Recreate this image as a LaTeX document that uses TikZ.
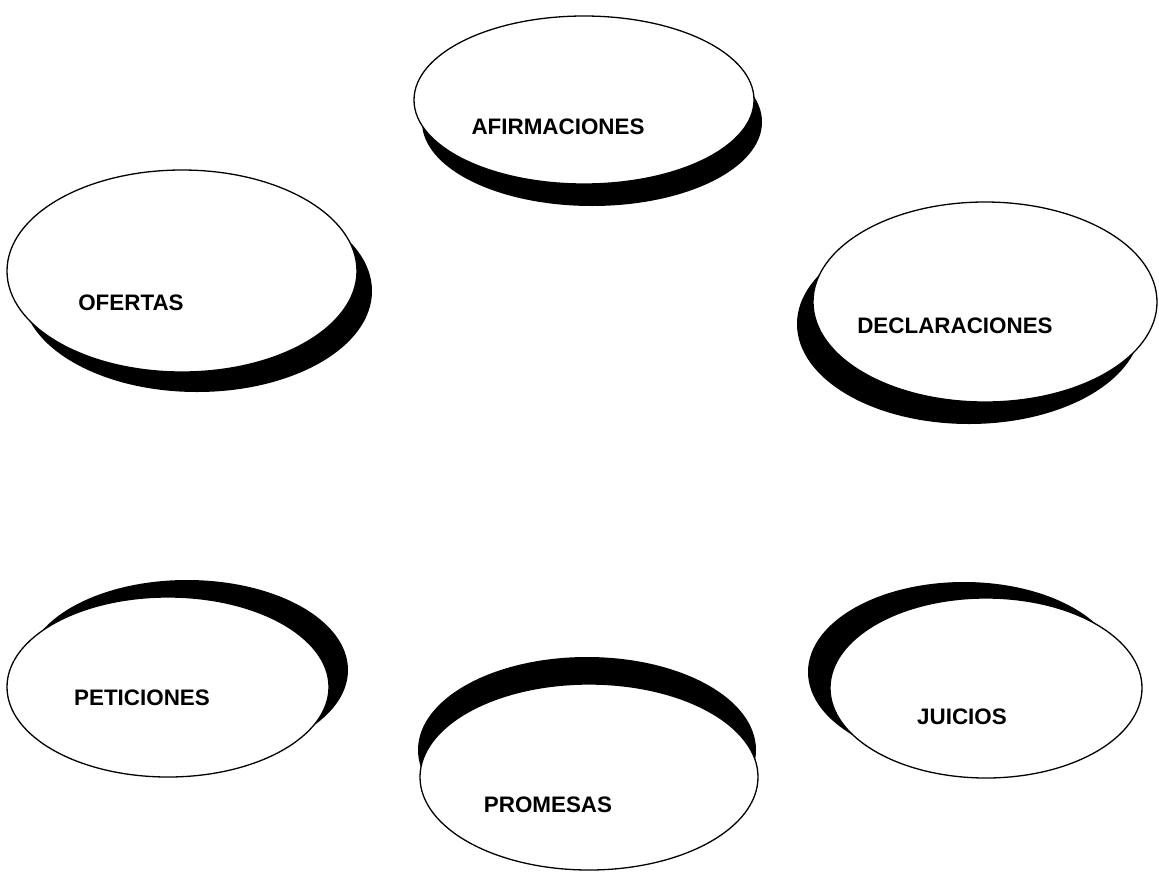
\documentclass[tikz,border=0pt]{standalone}
\usepackage{fontspec}
\setmainfont{Liberation Sans}
\usetikzlibrary{shapes.geometric,shadows}
\begin{document}
\begin{tikzpicture}[x=1pt,y=-1pt,
  bubble/.style={ellipse, draw=black, line width=1.3pt, fill=white, inner sep=0pt},
  dropshadow/.style 2 args={general shadow={fill=black, shadow xshift=#1, shadow yshift=#2}},
  bubbletext/.style={font=\fontsize{22.4}{26}\selectfont\bfseries, inner sep=0pt},
  ]
\useasboundingbox (0,0) rectangle (1159,873);

% six speech-act ellipses, each with a black drop shadow
\node[bubble, minimum width=340pt, minimum height=168pt, dropshadow={8pt}{-22pt}]  (afirm)  at (584,100) {};
\node[bubble, minimum width=350pt, minimum height=202pt, dropshadow={15pt}{-20pt}] (ofert)  at (182,271) {};
\node[bubble, minimum width=344pt, minimum height=200pt, dropshadow={-16pt}{-22pt}] (decla) at (985,302) {};
\node[bubble, minimum width=322pt, minimum height=180pt, dropshadow={19pt}{17pt}]  (petic)  at (168,687) {};
\node[bubble, minimum width=338pt, minimum height=186pt, dropshadow={-2pt}{27pt}]  (prome)  at (589,777) {};
\node[bubble, minimum width=312pt, minimum height=180pt, dropshadow={-22pt}{16pt}] (juici)  at (986,688) {};

% labels
\node[bubbletext] (tafirm) at (558,127) {AFIRMACIONES};
\node[bubbletext] (tofert) at (131,303) {OFERTAS};
\node[bubbletext] (tdecla) at (955,326) {DECLARACIONES};
\node[bubbletext] (tpetic) at (142,698) {PETICIONES};
\node[bubbletext] (tprome) at (548,805) {PROMESAS};
\node[bubbletext] (tjuici) at (962,717) {JUICIOS};
\end{tikzpicture}
\end{document}
